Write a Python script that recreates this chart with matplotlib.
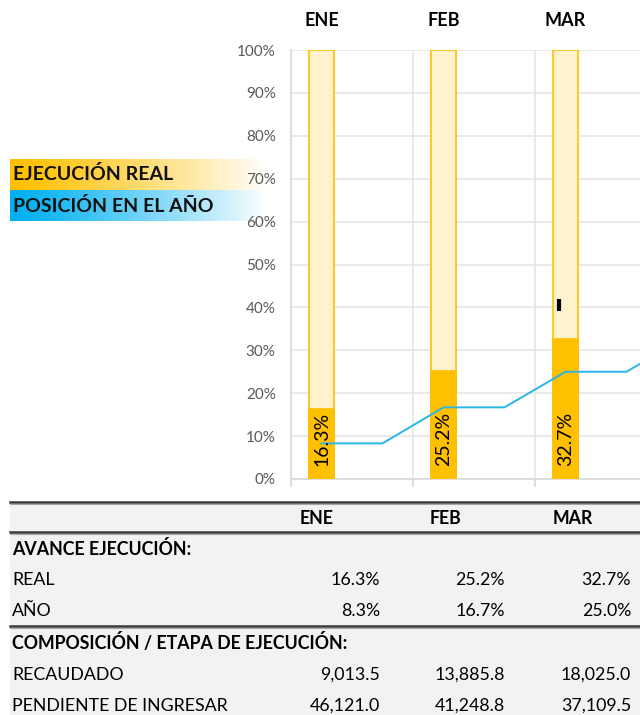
import numpy as np
import matplotlib.pyplot as plt
from matplotlib.colors import LinearSegmentedColormap
from matplotlib.transforms import blended_transform_factory

plt.rcParams['font.family'] = ['Lato', 'DejaVu Sans']

# datos
meses = ['ENE', 'FEB', 'MAR']
real = [16.3, 25.2, 32.7]
anio = [8.3, 16.7, 25.0]
anio_abr = 33.3          # siguiente punto de la linea (queda cortado)
marca_mar = 40.5         # marcador negro en MAR
recaudado = [9013.5, 13885.8, 18025.0]
pendiente = [46121.0, 41248.8, 37109.5]

naranja = '#FFC000'
azul = '#29B6E8'

W, H = 640, 715
fig = plt.figure(figsize=(W / 100, H / 100), dpi=100)

# ---- grafico principal
ax = fig.add_axes([291 / W, (H - 479) / H, (W - 291) / W, 429 / H], zorder=3)
ax.patch.set_alpha(0)
x = np.arange(len(meses)) + 0.25
ax.bar(x, [100] * len(meses), width=0.2, color='#FFF2CC', edgecolor=naranja, linewidth=1.2, zorder=2)
ax.bar(x, real, width=0.2, color=naranja, edgecolor=naranja, linewidth=1.2, zorder=3)
for xi, v in zip(x, real):
    ax.text(xi, 3, f'{v:.1f}%', rotation=90, ha='center', va='bottom', fontsize=14, color='black', zorder=5)

# linea escalonada posicion en el año
vals = anio + [anio_abr]
lx, ly = [], []
for i, v in enumerate(vals):
    lx += [i + 0.25, i + 0.75]
    ly += [v, v]
ax.plot(lx, ly, color=azul, lw=1.4, zorder=4)
ax.plot([2.2], [marca_mar], marker='|', color='black', ms=9, mew=3, zorder=6)

ax.set_xlim(0, (W - 291) / 122)
ax.set_ylim(0, 100)
ax.set_yticks(np.arange(0, 101, 10))
ax.set_yticklabels([f'{t}%' for t in range(0, 101, 10)])
ax.tick_params(axis='y', length=0, pad=11, labelsize=11, labelcolor='#595959')
ax.set_xticks([0, 1, 2])
ax.set_xticklabels([])
ax.tick_params(axis='x', length=6, color='#D9D9D9', width=1.2)
ax.grid(True, color='#E6E6E6', lw=1.2, zorder=0)
for s in ['top', 'right']:
    ax.spines[s].set_visible(False)
ax.spines['left'].set_color('#D9D9D9')
ax.spines['bottom'].set_color('#D9D9D9')
ax.spines['left'].set_linewidth(1.2)
ax.spines['bottom'].set_linewidth(1.2)

tr = blended_transform_factory(ax.transData, fig.transFigure)
for xi, m in zip(x, meses):
    ax.text(xi, 1 - 21 / H, m, transform=tr, ha='center', va='center', fontsize=13, fontweight='bold')

# ---- leyenda con degradado
def tira(y0, color, texto):
    a = fig.add_axes([10 / W, (H - y0 - 31) / H, 258 / W, 31 / H], zorder=1)
    cm = LinearSegmentedColormap.from_list('g', [color, 'white'])
    a.imshow(np.linspace(0, 1, 256)[None, :] ** 1.2, aspect='auto', cmap=cm, extent=[0, 1, 0, 1])
    a.set_axis_off()
    a.text(0.01, 0.5, texto, ha='left', va='center', fontsize=14, fontweight='bold', color='#111111')

tira(159, naranja, 'EJECUCIÓN REAL')
tira(190, '#00B0F0', 'POSICIÓN EN EL AÑO')

# ---- tabla
at = fig.add_axes([0, 0, 1, 1], zorder=-1)
at.set_xlim(0, W)
at.set_ylim(H, 0)
at.set_axis_off()
at.fill_between([10, W], 502, H, color='#F2F2F2', lw=0)
for yl in [502, 532, 626]:
    at.plot([10, W], [yl, yl], color='#3A3A3A', lw=1.8)
    at.plot([10, W], [yl + 2, yl + 2], color='#A6A6A6', lw=0.8)

col_izq = [300, 430, 553]
col_der = [380, 505, 631]
fs = 12.8
for cx, m in zip(col_izq, meses):
    at.text(cx, 518, m, ha='left', va='center', fontsize=fs, fontweight='bold')
at.text(12, 549, 'AVANCE EJECUCIÓN:', ha='left', va='center', fontsize=fs, fontweight='bold')
at.text(12, 643, 'COMPOSICIÓN / ETAPA DE EJECUCIÓN:', ha='left', va='center', fontsize=fs, fontweight='bold')
filas = [
    ('REAL', 580, [f'{v:.1f}%' for v in real]),
    ('AÑO', 611, [f'{v:.1f}%' for v in anio]),
    ('RECAUDADO', 675, [f'{v:,.1f}' for v in recaudado]),
    ('PENDIENTE DE INGRESAR', 706, [f'{v:,.1f}' for v in pendiente]),
]
for nombre, yy, txts in filas:
    at.text(12, yy, nombre, ha='left', va='center', fontsize=fs)
    for cx, t in zip(col_der, txts):
        at.text(cx, yy, t, ha='right', va='center', fontsize=fs)

fig.savefig('out.png', dpi=100)
